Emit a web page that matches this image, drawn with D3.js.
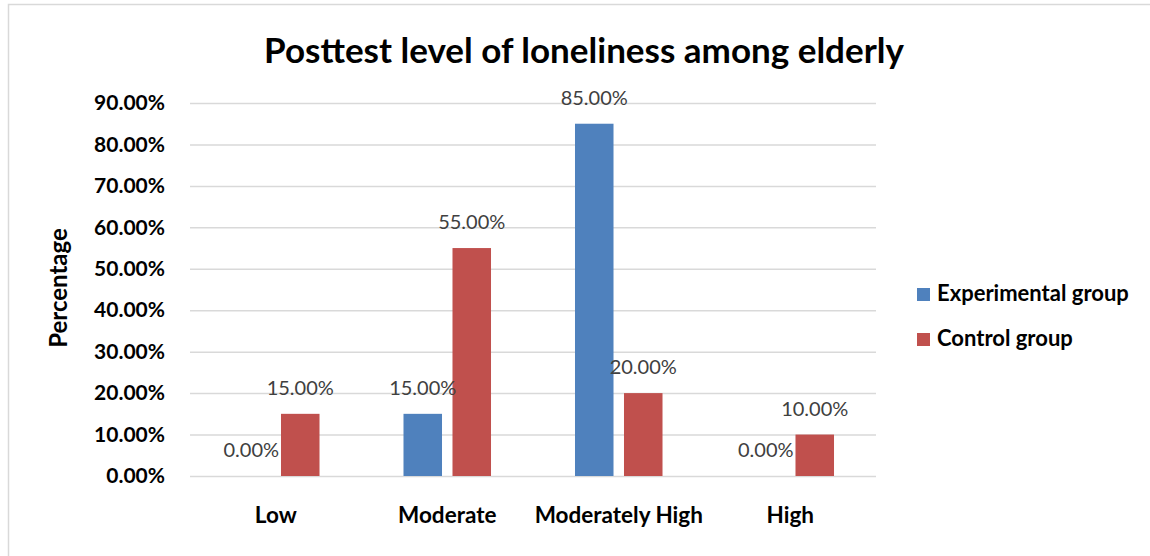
<!DOCTYPE html>
<html>
<head>
<meta charset="utf-8">
<script src="https://cdn.jsdelivr.net/npm/d3@7"></script>
<style>
  html, body { margin: 0; padding: 0; background: #fff; }
  svg { display: block; }
  text { font-family: Lato, "Open Sans", sans-serif; }
</style>
</head>
<body>
<svg id="chart" width="1150" height="556"></svg>
<script>
// Loneliness levels after the intervention, by study group
const categories = ["Low", "Moderate", "Moderately High", "High"];
const seriesNames = ["Experimental group", "Control group"];
const experimental = [0.00, 0.15, 0.85, 0.00];
const control = [0.15, 0.55, 0.20, 0.10];
const yTicks = [0, 0.1, 0.2, 0.3, 0.4, 0.5, 0.6, 0.7, 0.8, 0.9];
const colors = ["#4f81bd", "#c0504d"];

const svg = d3.select("#chart");
const W = 1150, H = 556;
const plot = { left: 190, right: 876, top: 103, bottom: 476 };

// outer frame of the chart area
svg.append("rect")
  .attr("x", 8.5).attr("y", 4.5)
  .attr("width", W + 20).attr("height", H + 20)
  .attr("fill", "#fff").attr("stroke", "#d9d9d9").attr("stroke-width", 1.5);

const y = d3.scaleLinear().domain([0, 0.9]).range([plot.bottom, plot.top]);
const x0 = d3.scaleBand().domain(categories).range([plot.left, plot.right]);
const x1 = d3.scaleBand().domain(seriesNames).range([0, x0.bandwidth()])
  .paddingInner(0.214).paddingOuter(0.857);

// title
svg.append("text")
  .attr("x", 584).attr("y", 63)
  .attr("text-anchor", "middle")
  .attr("font-size", 35).attr("font-weight", 700).attr("fill", "#000")
  .text("Posttest level of loneliness among elderly");

// y axis with gridlines
const yAxis = d3.axisLeft(y)
  .tickValues(yTicks)
  .tickFormat(d3.format(".2%"))
  .tickSize(-(plot.right - plot.left))
  .tickPadding(25);
const gy = svg.append("g")
  .attr("transform", `translate(${plot.left},0)`)
  .call(yAxis);
gy.select(".domain").remove();
gy.selectAll(".tick line").attr("stroke", "#d9d9d9").attr("stroke-width", 1.5);
gy.selectAll(".tick text")
  .attr("font-size", 21).attr("font-weight", 700).attr("fill", "#000")
  .attr("font-family", "Lato, 'Open Sans', sans-serif");

// x axis category labels
const xAxis = d3.axisBottom(x0).tickSize(0).tickPadding(31);
const gx = svg.append("g")
  .attr("transform", `translate(0,${plot.bottom})`)
  .call(xAxis);
gx.select(".domain").remove();
gx.selectAll(".tick text")
  .attr("font-size", 22.5).attr("font-weight", 700).attr("fill", "#000")
  .attr("font-family", "Lato, 'Open Sans', sans-serif");

// y axis title
svg.append("text")
  .attr("transform", "translate(67,288) rotate(-90)")
  .attr("text-anchor", "middle")
  .attr("font-size", 24).attr("font-weight", 700).attr("fill", "#000")
  .text("Percentage");

// bars
const rows = categories.map((c, i) => ({
  category: c,
  values: [
    { series: seriesNames[0], value: experimental[i], color: colors[0] },
    { series: seriesNames[1], value: control[i], color: colors[1] }
  ]
}));

const groups = svg.append("g").selectAll("g")
  .data(rows).join("g")
  .attr("transform", d => `translate(${x0(d.category)},0)`);

groups.selectAll("rect")
  .data(d => d.values).join("rect")
  .attr("x", d => x1(d.series))
  .attr("y", d => y(d.value))
  .attr("width", x1.bandwidth())
  .attr("height", d => y(0) - y(d.value))
  .attr("fill", d => d.color);

groups.selectAll("text.val")
  .data(d => d.values).join("text")
  .attr("class", "val")
  .attr("x", d => x1(d.series) + x1.bandwidth() / 2)
  .attr("y", d => y(d.value) - 19)
  .attr("text-anchor", "middle")
  .attr("font-size", 20).attr("fill", "#404040")
  .text(d => d3.format(".2%")(d.value));

// legend
const legend = svg.append("g").selectAll("g")
  .data(seriesNames).join("g")
  .attr("transform", (d, i) => `translate(917,${288 + i * 45})`);
legend.append("rect")
  .attr("width", 13).attr("height", 13)
  .attr("fill", (d, i) => colors[i]);
legend.append("text")
  .attr("x", 20).attr("y", 12.5)
  .attr("font-size", 22).attr("font-weight", 700).attr("fill", "#000")
  .text(d => d);
</script>
</body>
</html>
